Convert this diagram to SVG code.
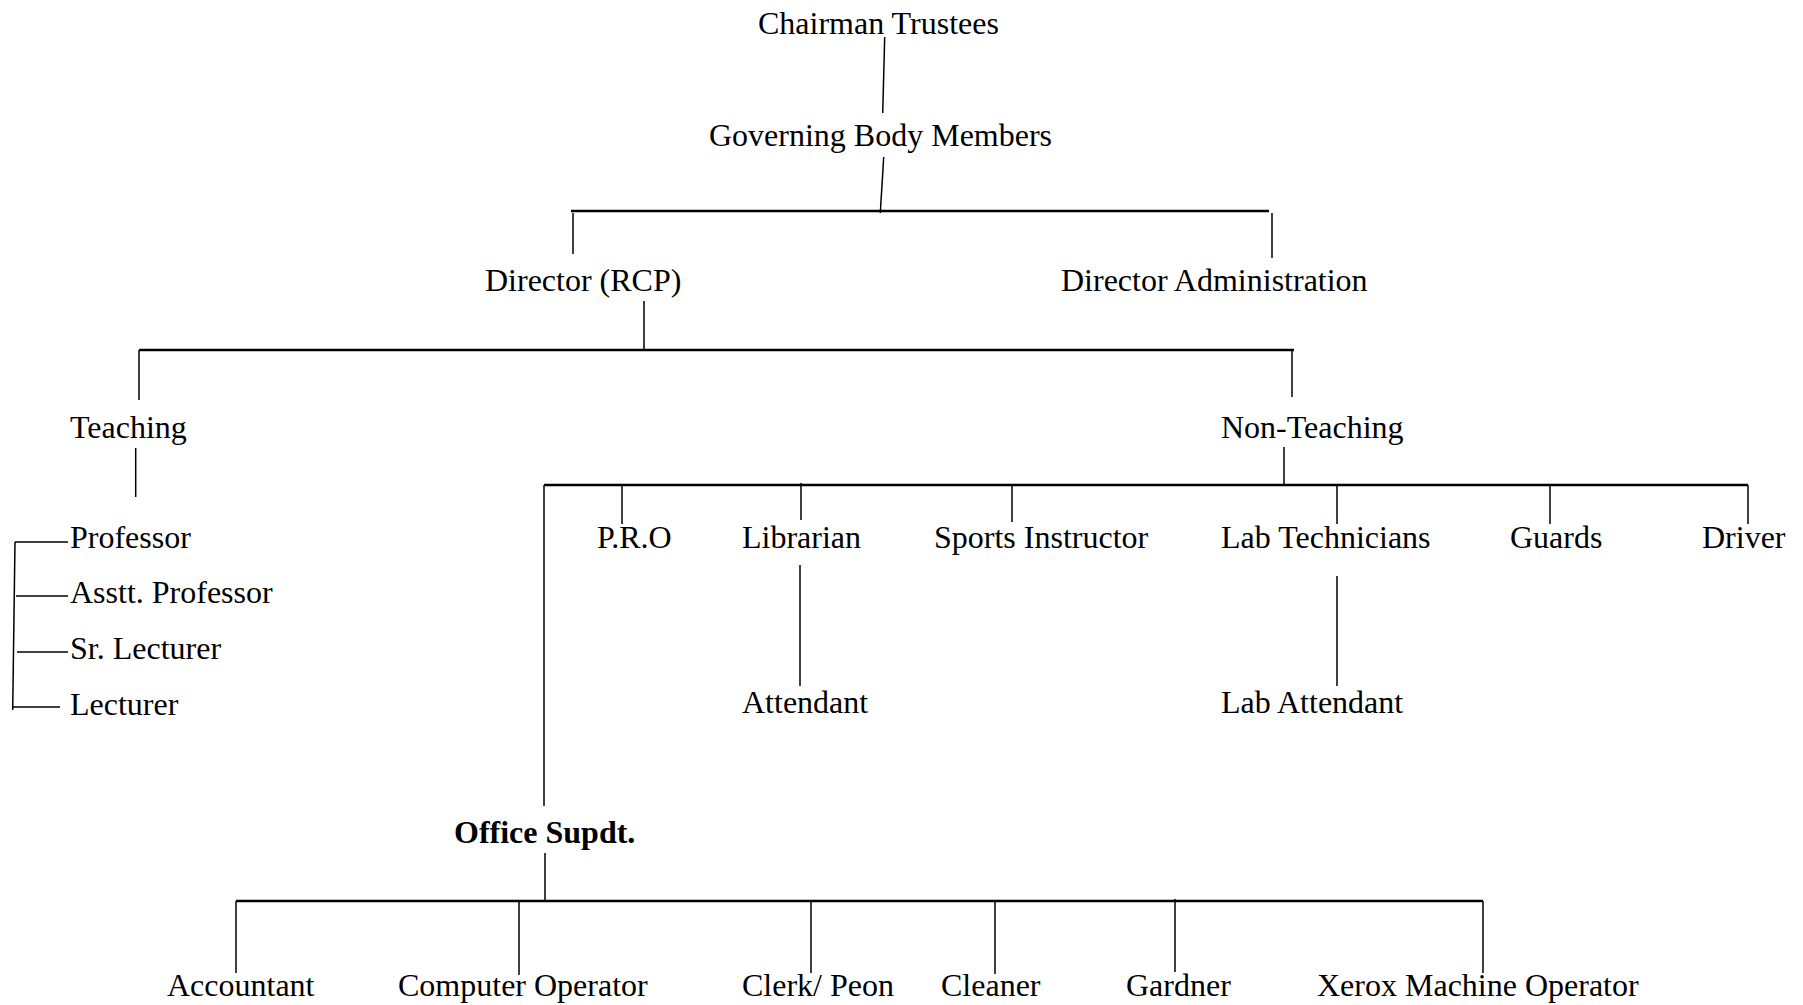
<svg xmlns="http://www.w3.org/2000/svg" width="1803" height="1005" viewBox="0 0 1803 1005">
<style>
text{font-family:"Liberation Serif","Times New Roman",serif;font-size:32px;fill:#000}
.b{font-weight:bold}
.v{stroke:#000;stroke-width:1.5;fill:none}
.h{stroke:#000;stroke-width:2.5;fill:none}
</style>
<rect width="1803" height="1005" fill="#fff"/>
<g id="connectors">
<line class="v" x1="884.7" y1="37" x2="882.7" y2="113"/>
<line class="v" x1="883.7" y1="157" x2="880.3" y2="213"/>
<line class="h" x1="571" y1="211" x2="1269" y2="211"/>
<line class="v" x1="573" y1="213" x2="573" y2="254"/>
<line class="v" x1="1272" y1="213" x2="1272" y2="258"/>
<line class="v" x1="644" y1="301" x2="644" y2="350"/>
<line class="h" x1="139" y1="350" x2="1294" y2="350"/>
<line class="v" x1="139" y1="350" x2="139" y2="400"/>
<line class="v" x1="1292" y1="350" x2="1292" y2="397"/>
<line class="v" x1="135.7" y1="448" x2="135.7" y2="497"/>
<line class="v" x1="15" y1="542" x2="12.7" y2="710"/>
<line class="v" x1="15" y1="542" x2="68" y2="542"/>
<line class="v" x1="16" y1="596" x2="68" y2="596"/>
<line class="v" x1="17" y1="652" x2="68" y2="652"/>
<line class="v" x1="12.7" y1="707" x2="60" y2="707"/>
<line class="v" x1="1284" y1="447" x2="1284" y2="485"/>
<line class="h" x1="544" y1="485" x2="1748" y2="485"/>
<line class="v" x1="544" y1="485" x2="544" y2="806"/>
<line class="v" x1="622" y1="485" x2="622" y2="524"/>
<line class="v" x1="801" y1="483" x2="801" y2="520"/>
<line class="v" x1="1012" y1="485" x2="1012" y2="522"/>
<line class="v" x1="1337" y1="485" x2="1337" y2="524"/>
<line class="v" x1="1550" y1="485" x2="1550" y2="524"/>
<line class="v" x1="1748" y1="485" x2="1748" y2="524"/>
<line class="v" x1="800" y1="565" x2="800" y2="686"/>
<line class="v" x1="1337" y1="576" x2="1337" y2="686"/>
<line class="v" x1="545" y1="853" x2="545" y2="902"/>
<line class="h" x1="236" y1="901" x2="1483" y2="901"/>
<line class="v" x1="236" y1="901" x2="236" y2="973"/>
<line class="v" x1="519" y1="901" x2="519" y2="975"/>
<line class="v" x1="811" y1="900" x2="811" y2="973"/>
<line class="v" x1="995" y1="901" x2="995" y2="974"/>
<line class="v" x1="1175" y1="899" x2="1175" y2="972"/>
<line class="v" x1="1483" y1="901" x2="1483" y2="973"/>
</g>
<g id="chairman"><text x="758" y="34">Chairman Trustees</text></g>
<g id="governing"><text x="709" y="146">Governing Body Members</text></g>
<g id="director-rcp"><text x="485" y="291">Director (RCP)</text></g>
<g id="director-admin"><text x="1061" y="291">Director Administration</text></g>
<g id="teaching"><text x="70" y="438">Teaching</text></g>
<g id="non-teaching"><text x="1221" y="438">Non-Teaching</text></g>
<g id="professor"><text x="70" y="548">Professor</text></g>
<g id="asstt-professor"><text x="70" y="603">Asstt. Professor</text></g>
<g id="sr-lecturer"><text x="70" y="659">Sr. Lecturer</text></g>
<g id="lecturer"><text x="70" y="715">Lecturer</text></g>
<g id="pro"><text x="597" y="548">P.R.O</text></g>
<g id="librarian"><text x="742" y="548">Librarian</text></g>
<g id="sports"><text x="934" y="548">Sports Instructor</text></g>
<g id="lab-tech"><text x="1221" y="548">Lab Technicians</text></g>
<g id="guards"><text x="1510" y="548">Guards</text></g>
<g id="driver"><text x="1702" y="548">Driver</text></g>
<g id="attendant"><text x="742" y="713">Attendant</text></g>
<g id="lab-attendant"><text x="1221" y="713">Lab Attendant</text></g>
<g id="office-supdt"><text class="b" x="454" y="843">Office Supdt.</text></g>
<g id="accountant"><text x="167" y="996">Accountant</text></g>
<g id="computer-operator"><text x="398" y="996">Computer Operator</text></g>
<g id="clerk-peon"><text x="742" y="996">Clerk/ Peon</text></g>
<g id="cleaner"><text x="941" y="996">Cleaner</text></g>
<g id="gardner"><text x="1126" y="996">Gardner</text></g>
<g id="xerox"><text x="1317" y="996">Xerox Machine Operator</text></g>
</svg>
